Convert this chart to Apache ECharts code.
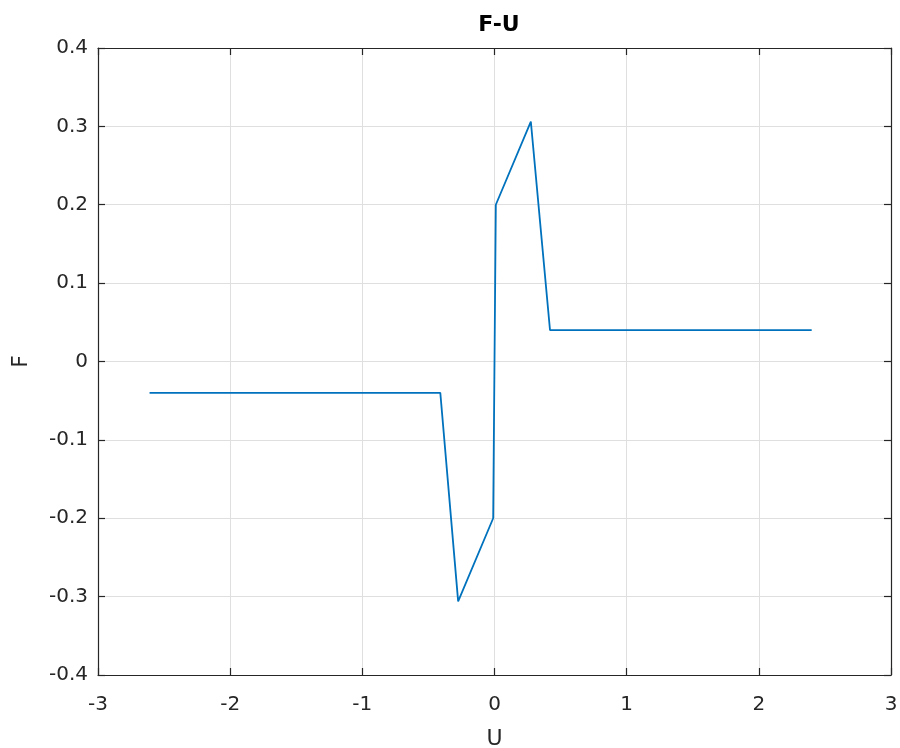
<!DOCTYPE html>
<html>
<head>
<meta charset="utf-8">
<script src="https://cdn.jsdelivr.net/npm/echarts@6/dist/echarts.min.js"></script>
<style>html,body{margin:0;padding:0;background:#fff}#c{width:900px;height:748px}</style>
</head>
<body>
<div id="c"></div>
<script>
const uValues = [-2.61, -0.41, -0.275, -0.01, 0.01, 0.275, 0.42, 2.4];
const fValues = [-0.04, -0.04, -0.306, -0.2, 0.2, 0.306, 0.04, 0.04];
const xTicks = [-3, -2, -1, 0, 1, 2, 3];
const yTicks = [-0.4, -0.3, -0.2, -0.1, 0, 0.1, 0.2, 0.3, 0.4];
const chartTitle = 'F-U';
const xName = 'U';
const yName = 'F';

const font = 'DejaVu Sans, Liberation Sans, Arial, sans-serif';
const axisColor = '#262626';
const pts = uValues.map((u, i) => [u, fValues[i]]);
const yLabel = v => { const r = Math.round(v * 10) / 10; return r === 0 ? '0' : String(r); };

const baseX = {
  type: 'value', min: xTicks[0], max: xTicks[xTicks.length - 1], interval: 1,
  axisLine: { show: true, onZero: false, lineStyle: { color: axisColor, width: 1.2 } },
  axisTick: { show: true, inside: true, length: 7, lineStyle: { color: axisColor, width: 1.2 } }
};
const baseY = {
  type: 'value', min: yTicks[0], max: yTicks[yTicks.length - 1], interval: 0.1,
  axisLine: { show: true, onZero: false, lineStyle: { color: axisColor, width: 1.2 } },
  axisTick: { show: true, inside: true, length: 7, lineStyle: { color: axisColor, width: 1.2 } }
};

const chart = echarts.init(document.getElementById('c'), null, { renderer: 'canvas' });
chart.setOption({
  animation: false,
  backgroundColor: '#ffffff',
  title: {
    text: chartTitle, left: 494, top: 9, textAlign: 'center',
    textStyle: { fontFamily: font, fontSize: 22, fontWeight: 'bold', color: '#000' }
  },
  grid: { left: 98, right: 9, top: 48, bottom: 73, containLabel: false, outerBoundsMode: 'none' },
  xAxis: [
    Object.assign({}, baseX, {
      position: 'bottom',
      name: xName, nameLocation: 'middle', nameGap: 53,
      nameTextStyle: { fontFamily: font, fontSize: 22, color: axisColor },
      axisLabel: { fontFamily: font, fontSize: 20, color: axisColor, margin: 20 },
      splitLine: { show: true, lineStyle: { color: '#dfdfdf', width: 1 } }
    }),
    Object.assign({}, baseX, {
      position: 'top', axisLabel: { show: false }, splitLine: { show: false }
    })
  ],
  yAxis: [
    Object.assign({}, baseY, {
      position: 'left',
      name: yName, nameLocation: 'middle', nameGap: 66,
      nameTextStyle: { fontFamily: font, fontSize: 22, color: axisColor },
      axisLabel: { fontFamily: font, fontSize: 20, color: axisColor, margin: 10, formatter: yLabel },
      splitLine: { show: true, lineStyle: { color: '#dfdfdf', width: 1 } }
    }),
    Object.assign({}, baseY, {
      position: 'right', axisLabel: { show: false }, splitLine: { show: false }
    })
  ],
  series: [{
    type: 'line', data: pts, xAxisIndex: 0, yAxisIndex: 0,
    showSymbol: false, symbol: 'none',
    lineStyle: { color: '#0072BD', width: 1.8 }
  }]
});
</script>
</body>
</html>
